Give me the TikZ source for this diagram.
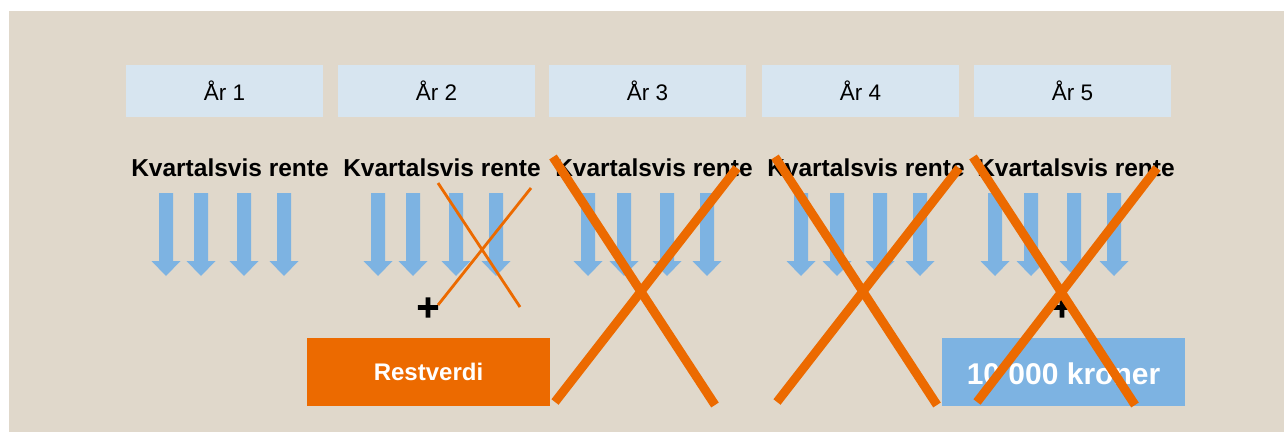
\documentclass[tikz,border=0pt]{standalone}
\usepackage{fontspec}
\setmainfont{Liberation Sans}
\newfontfamily\plusfont[FakeBold=9]{DejaVu Sans}
\definecolor{bg}{HTML}{E0D8CB}
\definecolor{yearfill}{HTML}{D7E5F0}
\definecolor{arrowblue}{HTML}{7DB3E2}
\definecolor{xorange}{HTML}{EC6A00}
\begin{document}
\begin{tikzpicture}[x=1pt,y=-1pt,
  yearbox/.style={fill=yearfill, minimum width=197pt, minimum height=52pt, inner sep=0pt,
    text height=18pt, text depth=0pt, font=\fontsize{22.5}{27}\selectfont},
  ratelabel/.style={anchor=base, inner sep=0pt, font=\fontsize{24.5}{29}\selectfont\bfseries},
  resbox/.style={fill=xorange, text=white, minimum width=243pt, minimum height=68pt, inner sep=0pt,
    text height=16pt, text depth=0pt, font=\fontsize{24}{29}\selectfont\bfseries},
  krbox/.style={fill=arrowblue, text=white, minimum width=243pt, minimum height=68pt, inner sep=0pt,
    text height=24pt, text depth=0pt, font=\fontsize{30}{36}\selectfont\bfseries},
  plussign/.style={inner sep=0pt, font=\plusfont\fontsize{28}{33}\selectfont},
  bigx/.style={draw=xorange, line width=9pt},
  smallx/.style={draw=xorange, line width=2.8pt},
  downarrow/.style={fill=arrowblue}
]
\useasboundingbox (0,0) rectangle (1284,436);
\fill[white] (0,0) rectangle (1284,436);
\fill[bg] (9,11) rectangle (1284,432);

% year boxes
\node[yearbox] (y1) at (224.5,91) {År 1};
\node[yearbox] (y2) at (436.5,91) {År 2};
\node[yearbox] (y3) at (647.5,91) {År 3};
\node[yearbox] (y4) at (860.5,91) {År 4};
\node[yearbox] (y5) at (1072.5,91) {År 5};

% rate labels
\node[ratelabel] (r1) at (230,176) {Kvartalsvis rente};
\node[ratelabel] (r2) at (442,176) {Kvartalsvis rente};
\node[ratelabel] (r3) at (654,176) {Kvartalsvis rente};
\node[ratelabel] (r4) at (866,176) {Kvartalsvis rente};
\node[ratelabel] (r5) at (1076,176) {Kvartalsvis rente};

% quarterly arrows
\foreach \x in {166,201,244,284, 378,413,456,496, 588,624,667,707, 801,837,880,920, 995,1031,1074,1114}{
  \fill[downarrow] (\x-7,193) -- (\x+7,193) -- (\x+7,261) -- (\x+14.5,261) -- (\x,276)
    -- (\x-14.5,261) -- (\x-7,261) -- cycle;
}

% plus signs
\node[plussign] (p2) at (428,307.5) {+};
\node[plussign] (p5) at (1062,307.5) {+};

% bottom boxes
\node[resbox] (rest) at (428.5,372) {Restverdi};
\node[krbox] (kr) at (1063.5,372) {10 000 kroner};

% small cross in year 2
\draw[smallx] (438,183) -- (520,307);
\draw[smallx] (531,188) -- (438,305);

% big crosses
\draw[bigx] (553,157) -- (715,405);
\draw[bigx] (737,168) -- (555,402);
\draw[bigx] (775,157) -- (937,405);
\draw[bigx] (959,168) -- (777,402);
\draw[bigx] (973,157) -- (1135,405);
\draw[bigx] (1157,168) -- (977,402);
\end{tikzpicture}
\end{document}
